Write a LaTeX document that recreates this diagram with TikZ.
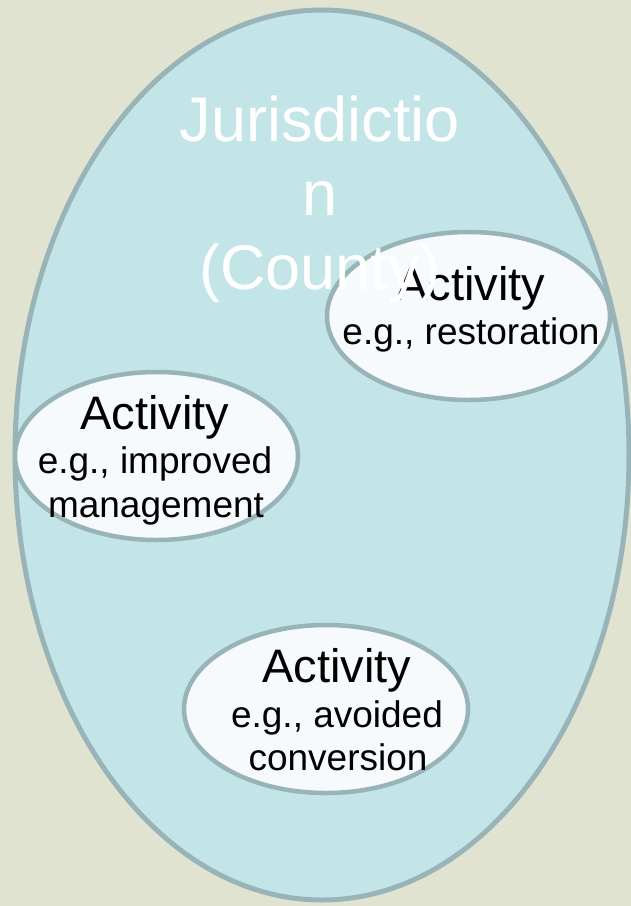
\documentclass[tikz,border=0pt]{standalone}
\usepackage{fontspec}
\setmainfont{Liberation Sans}
\usetikzlibrary{positioning}

\definecolor{bgcol}{HTML}{E1E3D1}
\definecolor{jurfill}{HTML}{C4E5E8}
\definecolor{rimcol}{HTML}{98B4B9}
\definecolor{actfill}{HTML}{F6FAFC}

\tikzset{
	actoval/.style={fill=actfill, draw=rimcol, line width=4.5pt},
	acthead/.style={anchor=base, inner sep=0pt, font=\fontsize{47}{47}\selectfont},
	actnote/.style={anchor=base, inner sep=0pt, font=\fontsize{37}{37}\selectfont},
	jurtext/.style={anchor=base, inner sep=0pt, text=white, font=\fontsize{63}{63}\selectfont}
}

\begin{document}
\begin{tikzpicture}[x=1pt, y=-1pt]
			%%%%% START %%%%%
			
			\fill[bgcol] (0, 0) rectangle (631, 906);
			\useasboundingbox (0, 0) rectangle (631, 906);
			
			% jurisdiction
			\draw[fill=jurfill, draw=rimcol, line width=5pt] (322, 455) ellipse (307 and 445);
			
			% restoration
			\draw[actoval] (468.5, 316) ellipse (141.5 and 84);
			\node[acthead] (restHead) at (471, 300) {Activity};
			\node[actnote] (restNote) at (471, 344) {e.g., restoration};
			
			% improved management
			\draw[actoval] (156.5, 456) ellipse (141.5 and 84);
			\node[acthead] (mgmtHead) at (155, 429) {Activity};
			\node[actnote] (mgmtNote) at (155, 473) {e.g., improved};
			\node[actnote] (mgmtNote2) at (156, 517) {management};
			
			% avoided conversion
			\draw[actoval] (326, 709) ellipse (142 and 84);
			\node[acthead] (convHead) at (337, 682) {Activity};
			\node[actnote] (convNote) at (337, 727) {e.g., avoided};
			\node[actnote] (convNote2) at (338, 770) {conversion};
			
			% title on top
			\node[jurtext] (jurLine1) at (320, 141) {Jurisdictio};
			\node[jurtext] (jurLine2) at (320, 215) {n};
			\node[jurtext] (jurLine3) at (320, 289) {(County)};
			
			%%%%% END %%%%%
\end{tikzpicture}
\end{document}
